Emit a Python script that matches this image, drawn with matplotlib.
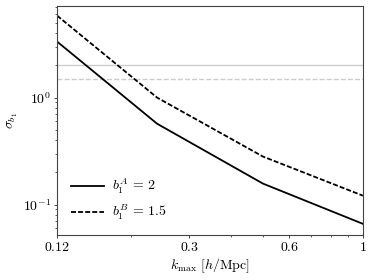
import matplotlib
matplotlib.use("Agg")
import matplotlib.pyplot as plt
from matplotlib.ticker import FixedLocator, FixedFormatter, NullFormatter

plt.rcParams['mathtext.fontset'] = 'cm'
plt.rcParams['font.family'] = 'serif'
plt.rcParams['font.serif'] = ['cmr10', 'DejaVu Serif']
plt.rcParams['axes.formatter.use_mathtext'] = True
plt.rcParams['lines.scale_dashes'] = False

kmax = [0.12, 0.24, 0.5, 1.0]
sigma_A = [3.34, 0.57, 0.157, 0.066]
sigma_B = [5.84, 1.0, 0.281, 0.121]
b1_A = 2.0
b1_B = 1.5
xticks = [0.12, 0.3, 0.6, 1.0]
xtick_labels = ['$0.12$', '$0.3$', '$0.6$', '$1$']

fig = plt.figure(figsize=(3.73, 2.80), dpi=100)
ax = fig.add_axes([0.153, 0.161, 0.82, 0.818])

ax.axhline(b1_A, color='#cccccc', lw=1.0, ls='-')
ax.axhline(b1_B, color='#cccccc', lw=1.0, ls=(0, (3.6, 1.5)))
ax.plot(kmax, sigma_A, color='black', lw=1.3, ls='-', label=r'$b_1^A\,=\,2$')
ax.plot(kmax, sigma_B, color='black', lw=1.3, ls=(0, (3.6, 1.5)),
        label=r'$b_1^B\,=\,1.5$')

ax.set_xscale('log')
ax.set_yscale('log')
ax.set_xlim(0.12, 1.0)
ax.set_ylim(0.052, 7.2)
ax.xaxis.set_major_locator(FixedLocator(xticks))
ax.xaxis.set_major_formatter(FixedFormatter(xtick_labels))
ax.xaxis.set_minor_locator(FixedLocator([0.2, 0.4, 0.5, 0.7, 0.8, 0.9]))
ax.xaxis.set_minor_formatter(NullFormatter())

ax.tick_params(which='major', labelsize=10, length=2.5, width=0.7, pad=2.0,
               color='#444444')
ax.tick_params(which='minor', length=1.6, width=0.6, color='#444444')
for s in ax.spines.values():
    s.set_color('#444444')

ax.set_xlabel(r'$k_{\rm max}\ [h/{\rm Mpc}]$', fontsize=10, labelpad=2)
ax.set_ylabel(r'$\sigma_{b_1}$', fontsize=10)
ax.yaxis.set_label_coords(-0.121, 0.5)
ax.legend(loc='lower left', frameon=False, fontsize=10, handlelength=2.4,
          handletextpad=0.55, labelspacing=0.5,
          bbox_to_anchor=(0.005, 0.0))

fig.savefig('out.png', dpi=100)
